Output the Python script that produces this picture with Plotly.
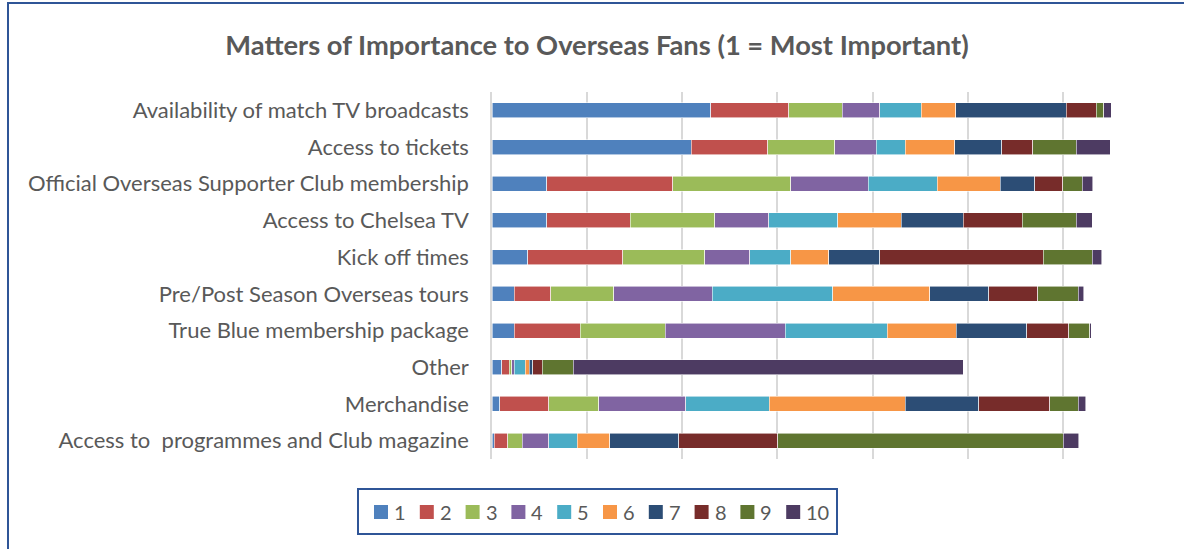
import plotly.graph_objects as go

# Survey items, listed top to bottom
categories = [
    "Availability of match TV broadcasts",
    "Access to tickets",
    "Official Overseas Supporter Club membership",
    "Access to Chelsea TV",
    "Kick off times",
    "Pre/Post Season Overseas tours",
    "True Blue membership package",
    "Other",
    "Merchandise",
    "Access to \u00a0programmes and Club magazine",
]

# Responses per rank (1 = most important) for each item
rank_1 = [46.0, 41.9, 11.5, 11.5, 7.5, 4.7, 4.7, 2.0, 1.6, 0.5]
rank_2 = [16.4, 16.1, 26.5, 17.6, 20.0, 7.6, 13.9, 1.6, 10.3, 2.8]
rank_3 = [11.2, 14.1, 24.8, 17.7, 17.2, 13.3, 17.8, 0.5, 10.5, 3.1]
rank_4 = [7.9, 8.7, 16.3, 11.4, 9.5, 20.7, 25.2, 0.6, 18.3, 5.5]
rank_5 = [8.7, 6.1, 14.5, 14.5, 8.6, 25.3, 21.5, 2.3, 17.6, 6.0]
rank_6 = [7.3, 10.4, 13.2, 13.3, 8.0, 20.4, 14.5, 0.8, 28.6, 6.9]
rank_7 = [23.2, 9.9, 7.3, 13.1, 10.7, 12.4, 14.8, 0.8, 15.4, 14.5]
rank_8 = [6.3, 6.5, 5.9, 12.4, 34.4, 10.3, 8.8, 2.0, 14.9, 20.8]
rank_9 = [1.6, 9.1, 4.1, 11.3, 10.3, 8.5, 4.5, 6.5, 6.0, 60.0]
rank_10 = [1.6, 7.2, 2.2, 3.4, 2.0, 1.2, 0.3, 82.0, 1.6, 3.2]

series = [rank_1, rank_2, rank_3, rank_4, rank_5, rank_6, rank_7, rank_8, rank_9, rank_10]
series_names = ["1", "2", "3", "4", "5", "6", "7", "8", "9", "10"]
colors = ["#4F81BD", "#C0504D", "#9BBB59", "#8064A2", "#4BACC6",
          "#F79646", "#2C4D75", "#772C2A", "#5F7530", "#4D3B62"]

TEXT = "#595959"
FONT = "Lato"
FRAME = "#2F5597"

fig = go.Figure()
for name, vals, col in zip(series_names, series, colors):
    fig.add_trace(go.Bar(
        y=categories, x=vals, name=name, orientation="h",
        marker=dict(color=col, line=dict(color="rgba(255,255,255,0.7)", width=0.8)),
    ))

W, H = 1184, 549
L, R, T, B = 492, 26, 92, 90
pw, ph = W - L - R, H - T - B


def px_x(x):
    """Page pixel column -> paper x."""
    return (x - L) / pw


def px_y(y):
    """Page pixel row -> paper y."""
    return (ph - (y - T)) / ph


shapes = [
    # outer chart frame (left and top edges fall inside the page)
    dict(type="rect", xref="paper", yref="paper",
         x0=px_x(8), x1=px_x(W + 20), y0=px_y(H + 20), y1=px_y(3),
         line=dict(color=FRAME, width=2), fillcolor="rgba(0,0,0,0)", layer="below"),
    # legend box
    dict(type="rect", xref="paper", yref="paper",
         x0=px_x(358), x1=px_x(837), y0=px_y(534), y1=px_y(489),
         line=dict(color=FRAME, width=2), fillcolor="white", layer="above"),
]
annotations = []

# Legend entries: colour swatch followed by the rank label
key_x0, key_step, key_size, key_mid = 374, 45.8, 14, 512
for i, (name, col) in enumerate(zip(series_names, colors)):
    sx = key_x0 + i * key_step
    shapes.append(dict(
        type="rect", xref="paper", yref="paper",
        x0=px_x(sx), x1=px_x(sx + key_size),
        y0=px_y(key_mid + key_size / 2), y1=px_y(key_mid - key_size / 2),
        line=dict(width=0), fillcolor=col, layer="above"))
    annotations.append(dict(
        text=name, xref="paper", yref="paper",
        x=px_x(sx + key_size + 4), y=px_y(key_mid),
        xanchor="left", yanchor="middle", showarrow=False,
        font=dict(size=20, color=TEXT, family=FONT)))

fig.update_layout(
    width=W, height=H,
    barmode="stack", bargap=0.59,
    showlegend=False,
    paper_bgcolor="white", plot_bgcolor="white",
    margin=dict(l=L, r=R, t=T, b=B, autoexpand=False),
    font=dict(family=FONT, color=TEXT),
    title=dict(
        text="<b>Matters of Importance to Overseas Fans (1 = Most Important)</b>",
        x=597 / W, xanchor="center", xref="container",
        y=1 - 45 / H, yanchor="middle", yref="container",
        font=dict(size=27.3, color=TEXT, family=FONT),
    ),
    xaxis=dict(
        range=[0, 140], dtick=20, showticklabels=False,
        showgrid=True, gridcolor="#D9D9D9", gridwidth=1.5,
        zeroline=False, showline=False, ticks="",
    ),
    yaxis=dict(
        autorange="reversed", showgrid=False, zeroline=False,
        showline=True, linecolor="#D9D9D9", linewidth=1.5,
        ticks="", ticklabelstandoff=17,
        tickfont=dict(size=22, color=TEXT, family=FONT),
    ),
    shapes=shapes,
    annotations=annotations,
)

fig.write_html("out.html")
